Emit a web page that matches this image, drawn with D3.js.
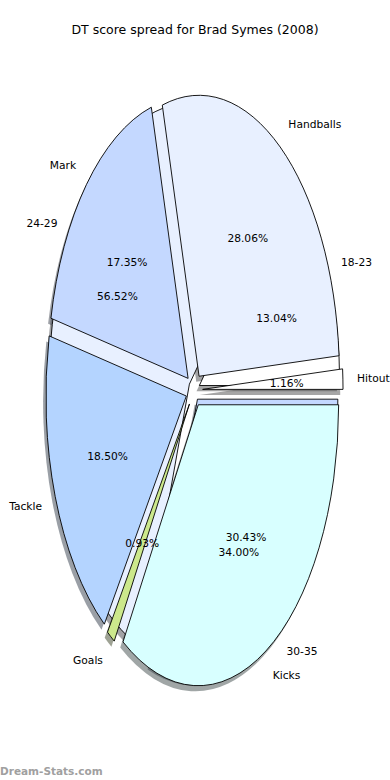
<!DOCTYPE html>
<html>
<head>
<meta charset="utf-8">
<script src="https://cdn.jsdelivr.net/npm/d3@7"></script>
<style>
  body { margin: 0; background: #fff; }
  svg { display: block; font-family: "DejaVu Sans", sans-serif; }
</style>
</head>
<body>
<svg id="chart" width="390" height="780"></svg>
<script>
// stat pie (drawn on top) and score range pie (underneath)
var statLabels = ["Hitout", "Handballs", "Mark", "Tackle", "Goals", "Kicks"];
var statValues = [1.16, 28.06, 17.35, 18.50, 0.93, 34.00];
var rangeLabels = ["18-23", "24-29", "30-35"];
var rangeValues = [13.04, 56.52, 30.43];
var sliceColors = ["#ffffff", "#e8f0ff", "#c4d8ff", "#b4d4ff", "#cce88c", "#d8ffff"];

var W = 390, H = 780;
var cx = 194.2, cy = 390, rx = 140.4, ry = 281;
var svg = d3.select("#chart");

// unit data space -> pixels (pie is stretched, axes not equal)
var x = d3.scaleLinear().domain([-1, 1]).range([cx - rx, cx + rx]);
var y = d3.scaleLinear().domain([-1, 1]).range([cy - ry, cy + ry]);

// start at 3 o'clock, go counterclockwise
var pie = d3.pie().sort(null).startAngle(Math.PI / 2).endAngle(Math.PI / 2 - 2 * Math.PI);
var arc = d3.arc().innerRadius(0).outerRadius(1);
var fmt = d3.format(".2f");

function midPoint(d, r) {
    return d3.arc().innerRadius(r).outerRadius(r).centroid(d);
}

function build(labels, values, explode) {
    return pie(values).map(function (d, i) {
        var dir = midPoint(d, 1);
        return {
            a: d, label: labels[i], value: values[i], color: sliceColors[i],
            off: [dir[0] * explode, dir[1] * explode]
        };
    });
}

var rangeSlices = build(rangeLabels, rangeValues, 0.04);
var statSlices = build(statLabels, statValues, 0.06);

var g = svg.append("g")
    .attr("transform", "translate(" + cx + "," + cy + ") scale(" + rx + "," + ry + ")");

// shadows first, under every wedge
var all = rangeSlices.concat(statSlices);
g.selectAll("path.shadow").data(all).enter().append("path")
    .attr("class", "shadow")
    .attr("d", function (s) { return arc(s.a); })
    .attr("transform", function (s) { return "translate(" + (s.off[0] - 0.02) + "," + (s.off[1] + 0.02) + ")"; })
    .attr("fill", function (s) {
        var c = d3.rgb(s.color);
        return d3.rgb(c.r * 0.3, c.g * 0.3, c.b * 0.3);
    })
    .attr("fill-opacity", 0.5);

function wedges(slices, cls) {
    g.selectAll("path." + cls).data(slices).enter().append("path")
        .attr("class", cls)
        .attr("d", function (s) { return arc(s.a); })
        .attr("transform", function (s) { return "translate(" + s.off[0] + "," + s.off[1] + ")"; })
        .attr("fill", function (s) { return s.color; })
        .attr("stroke", "#000")
        .attr("stroke-width", 0.9)
        .attr("vector-effect", "non-scaling-stroke")
        .attr("stroke-linejoin", "miter");
}
wedges(rangeSlices, "range");
wedges(statSlices, "stat");

function texts(slices) {
    slices.forEach(function (s) {
        var p = midPoint(s.a, 1.1);
        var px = s.off[0] + p[0], py = s.off[1] + p[1];
        svg.append("text")
            .attr("x", x(px)).attr("y", y(py))
            .attr("dy", "0.35em")
            .attr("text-anchor", px > 0 ? "start" : "end")
            .attr("font-size", 10.7)
            .text(s.label);
        var q = midPoint(s.a, 0.6);
        svg.append("text")
            .attr("x", x(s.off[0] + q[0])).attr("y", y(s.off[1] + q[1]))
            .attr("dy", "0.35em")
            .attr("text-anchor", "middle")
            .attr("font-size", 10.7)
            .text(fmt(s.value) + "%");
    });
}
texts(rangeSlices);
texts(statSlices);

svg.append("text")
    .attr("x", W / 2).attr("y", 30)
    .attr("dy", "0.35em")
    .attr("text-anchor", "middle")
    .attr("font-size", 12.5)
    .text("DT score spread for Brad Symes (2008)");

svg.append("text")
    .attr("x", 0).attr("y", 775)
    .attr("font-size", 10.5)
    .attr("font-weight", "bold")
    .attr("fill", "#a0a0a0")
    .text("Dream-Stats.com");
</script>
</body>
</html>
